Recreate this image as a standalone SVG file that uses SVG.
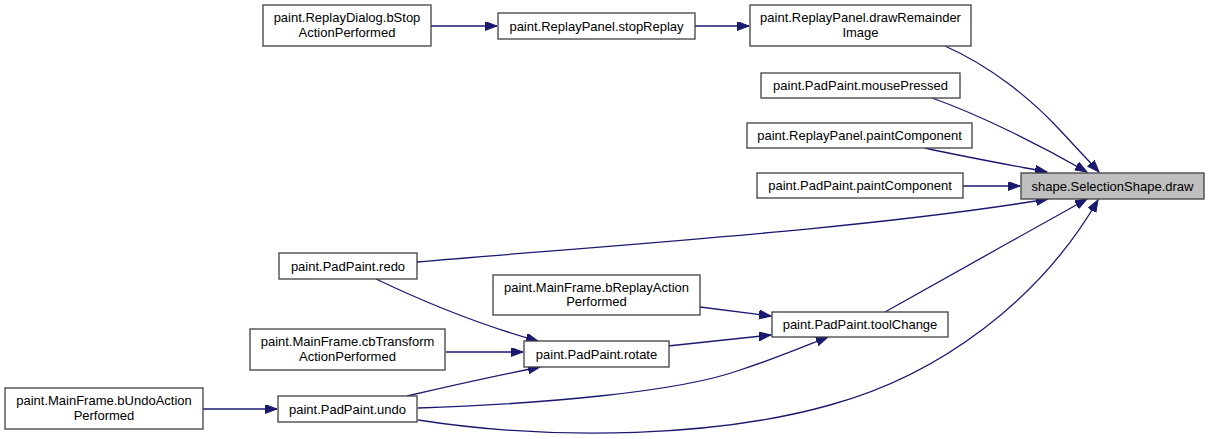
<svg xmlns="http://www.w3.org/2000/svg" width="1209" height="439" viewBox="0 0 1209 439">
<style>
.n rect{fill:#fff;stroke:#404040;stroke-width:1.3}
.n.h rect{fill:#bfbfbf}
.n text{font-family:"Liberation Sans",Arial,sans-serif;font-size:13px;fill:#000;text-anchor:middle}
.e path{fill:none;stroke:#191970;stroke-width:1.3;marker-end:url(#a)}
</style>
<defs>
<marker id="a" markerUnits="userSpaceOnUse" markerWidth="14" markerHeight="10" refX="12" refY="4.5" orient="auto">
<path d="M0,0 L12,4.5 L0,9 z" fill="#191970" stroke="#191970" stroke-width="1"/>
</marker>
</defs>
<rect width="1209" height="439" fill="#fff"/>
<g id="edges" class="e">
<path d="M431,26 L497,26"/>
<path d="M695,26 L749,26"/>
<path d="M945,46 C990,66 1030,98 1058,128 C1074,145 1088,160 1099,172"/>
<path d="M932,98 C980,115 1040,145 1087,172"/>
<path d="M925,148 C960,156 1010,165 1047,172"/>
<path d="M963,186 L1020,186"/>
<path d="M417,262 C600,246 860,230 1048,199"/>
<path d="M885,312 C950,276 1020,236 1087,199"/>
<path d="M418,420 C560,442 720,436 830,405 C940,375 1040,300 1098,200"/>
<path d="M418,408 C540,404 680,392 740,370 C780,357 805,346 828,337"/>
<path d="M407,396 C450,386 500,375 540,367"/>
<path d="M376,279 C420,300 480,325 538,341"/>
<path d="M446,352 L523,352"/>
<path d="M700,307 L771,316"/>
<path d="M668,346 L771,335"/>
<path d="M203,409 L277,409"/>
</g>
<g id="n_bstop" class="n"><rect x="263" y="5" width="168" height="41"/><text x="347" y="22">paint.ReplayDialog.bStop</text><text x="347" y="37">ActionPerformed</text></g>
<g id="n_stopreplay" class="n"><rect x="498" y="13" width="197" height="26"/><text x="596.5" y="30.5">paint.ReplayPanel.stopReplay</text></g>
<g id="n_drawremainder" class="n"><rect x="750" y="5" width="221" height="41"/><text x="860.5" y="22">paint.ReplayPanel.drawRemainder</text><text x="860.5" y="37">Image</text></g>
<g id="n_mousepressed" class="n"><rect x="761" y="73" width="199" height="25"/><text x="860.5" y="90">paint.PadPaint.mousePressed</text></g>
<g id="n_rp_paint" class="n"><rect x="747" y="123" width="225" height="25"/><text x="859.5" y="140">paint.ReplayPanel.paintComponent</text></g>
<g id="n_pp_paint" class="n"><rect x="757" y="173" width="206" height="25"/><text x="860" y="190">paint.PadPaint.paintComponent</text></g>
<g id="n_draw" class="n h"><rect x="1021" y="173" width="183" height="26"/><text x="1112.5" y="190.5">shape.SelectionShape.draw</text></g>
<g id="n_redo" class="n"><rect x="279" y="253" width="138" height="26"/><text x="348" y="270.5">paint.PadPaint.redo</text></g>
<g id="n_breplay" class="n"><rect x="493" y="275" width="207" height="40"/><text x="596.5" y="291.5">paint.MainFrame.bReplayAction</text><text x="596.5" y="306">Performed</text></g>
<g id="n_toolchange" class="n"><rect x="772" y="312" width="176" height="25"/><text x="860" y="329">paint.PadPaint.toolChange</text></g>
<g id="n_cbtransform" class="n"><rect x="250" y="329" width="195" height="41"/><text x="347.5" y="346">paint.MainFrame.cbTransform</text><text x="347.5" y="361">ActionPerformed</text></g>
<g id="n_rotate" class="n"><rect x="524" y="341" width="145" height="26"/><text x="596.5" y="358.5">paint.PadPaint.rotate</text></g>
<g id="n_bundo" class="n"><rect x="5" y="388" width="198" height="41"/><text x="104" y="405">paint.MainFrame.bUndoAction</text><text x="104" y="420">Performed</text></g>
<g id="n_undo" class="n"><rect x="278" y="396" width="139" height="26"/><text x="347.5" y="413.5">paint.PadPaint.undo</text></g>
</svg>
